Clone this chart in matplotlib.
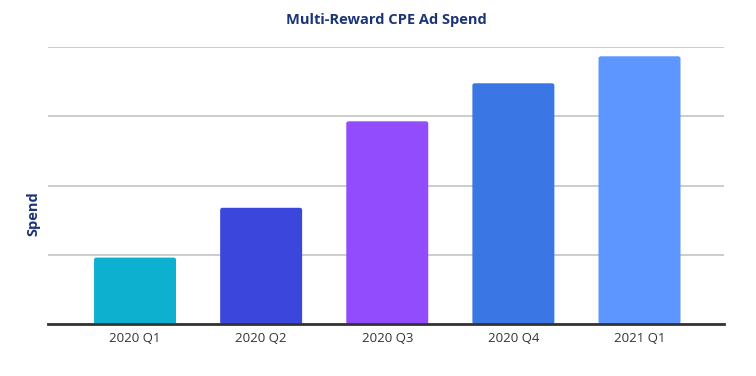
import matplotlib
matplotlib.use("Agg")
import matplotlib.pyplot as plt
from matplotlib.patches import FancyBboxPatch

categories = ["2020 Q1", "2020 Q2", "2020 Q3", "2020 Q4", "2021 Q1"]
spend = [0.96, 1.68, 2.93, 3.48, 3.87]
colors = ["#0DB1CF", "#3B47DC", "#934BFE", "#3A77E4", "#5C96FE"]
grid_ticks = [0, 1, 2, 3, 4]

plt.rcParams['font.family'] = ['Open Sans', 'DejaVu Sans']

fig = plt.figure(figsize=(7.56, 3.76), dpi=100)
left, right = 48/756, 724/756
bottom, top = 1 - 324/376, 1 - 47.3/376
ax = fig.add_axes([left, bottom, right - left, top - bottom])

width = 0.65
xs = list(range(len(categories)))
bars = ax.bar(xs, spend, width=width, color=colors, zorder=3)
# rounded tops
for b, c in zip(bars, colors):
    b.set_visible(False)
    p = FancyBboxPatch((b.get_x(), b.get_y()), b.get_width(), b.get_height(),
                       boxstyle="round,pad=0,rounding_size=0.02",
                       mutation_aspect=1.4, facecolor=c, edgecolor='none', zorder=3)
    ax.add_patch(p)

ax.set_xlim(-0.69, 4.67)
ax.set_ylim(0, 4)
ax.set_yticks(grid_ticks)
ax.set_yticklabels([])
ax.tick_params(axis='y', length=0)
ax.grid(axis='y', color='#CCCCCC', linewidth=1.4, zorder=0)
ax.set_xticks(xs)
ax.set_xticklabels(categories, fontsize=9.5, color='#333333')
ax.tick_params(axis='x', length=0, pad=6)
for s in ['top', 'right', 'left']:
    ax.spines[s].set_visible(False)
ax.spines['bottom'].set_color('#333333')
ax.spines['bottom'].set_linewidth(2)
ax.spines['bottom'].set_zorder(4)

fig.text((left + right) / 2, 1 - 20/376, "Multi-Reward CPE Ad Spend", ha='center', va='center',
         fontsize=10.5, fontweight='bold', color='#1C3477')
fig.text(33/756, 1 - 214/376, "Spend", rotation=90, ha='center', va='center',
         fontsize=10.5, fontweight='bold', color='#1C3477')

fig.savefig("out.png", dpi=100)
